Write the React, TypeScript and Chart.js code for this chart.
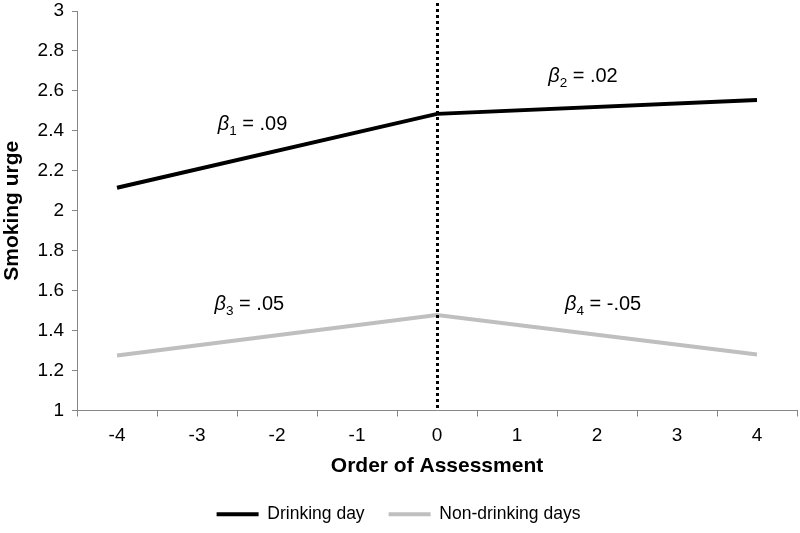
import { useEffect, useRef } from 'react';
import { Chart, registerables } from 'chart.js';

Chart.register(...registerables);

const categories = ['-4', '-3', '-2', '-1', '0', '1', '2', '3', '4'];
const drinkingDay = [2.115, null, null, null, 2.485, null, null, null, 2.555];
const nonDrinkingDays = [1.275, null, null, null, 1.478, null, null, null, 1.28];
const seriesNames = ['Drinking day', 'Non-drinking days'];
const betaSubscripts = ['1', '2', '3', '4'];
const betaValues = ['.09', '.02', '.05', '-.05'];

// annotation anchor points (category index, y value) for the beta labels
const betaAnchors = [
  { i: 1.26, y: 2.44 },
  { i: 5.39, y: 2.68 },
  { i: 1.22, y: 1.54 },
  { i: 5.6, y: 1.54 },
];

const FONT = "'Liberation Sans', Arial, sans-serif";
const AXIS = '#868686';

const overlayPlugin = {
  id: 'overlay',
  afterDatasetsDraw(chart: any) {
    const { ctx, chartArea, scales } = chart;
    const x = scales.x;
    const y = scales.y;
    ctx.save();
    const x0 = Math.round(x.getPixelForValue(categories.indexOf('0'))) + 0.5;
    ctx.strokeStyle = '#000';
    ctx.lineWidth = 3;
    ctx.setLineDash([3, 3]);
    ctx.beginPath();
    ctx.moveTo(x0, chartArea.top - 8);
    ctx.lineTo(x0, chartArea.bottom);
    ctx.stroke();
    ctx.setLineDash([]);
    ctx.fillStyle = '#000';
    ctx.textBaseline = 'alphabetic';
    ctx.textAlign = 'left';
    betaAnchors.forEach((a, k) => {
      let px = x.getPixelForValue(a.i);
      const py = y.getPixelForValue(a.y) + 7;
      ctx.font = `italic 20px ${FONT}`;
      ctx.fillText('\u03B2', px, py);
      px += ctx.measureText('\u03B2').width;
      ctx.font = `13.5px ${FONT}`;
      ctx.fillText(betaSubscripts[k], px, py + 5);
      px += ctx.measureText(betaSubscripts[k]).width;
      ctx.font = `20px ${FONT}`;
      ctx.fillText(' = ' + betaValues[k], px, py);
    });
    ctx.restore();
  },
};

export default function App() {
  const ref = useRef<HTMLCanvasElement>(null);
  useEffect(() => {
    if (!ref.current) return;
    const chart = new Chart(ref.current, {
      type: 'line',
      data: {
        labels: categories,
        datasets: [
          {
            label: seriesNames[0],
            data: drinkingDay,
            borderColor: '#000000',
            backgroundColor: '#000000',
            borderWidth: 4,
            pointRadius: 0,
            spanGaps: true,
            tension: 0,
          },
          {
            label: seriesNames[1],
            data: nonDrinkingDays,
            borderColor: '#bfbfbf',
            backgroundColor: '#bfbfbf',
            borderWidth: 4,
            pointRadius: 0,
            spanGaps: true,
            tension: 0,
          },
        ],
      },
      options: {
        animation: false,
        responsive: true,
        maintainAspectRatio: false,
        layout: { padding: { top: 11, right: 3, left: 0, bottom: 0 } },
        plugins: {
          tooltip: { enabled: false },
          legend: {
            position: 'bottom',
            labels: {
              boxWidth: 42,
              boxHeight: 4,
              padding: 24,
              color: '#000',
              font: { family: FONT, size: 17.5 },
              generateLabels: (c: any) =>
                c.data.datasets.map((d: any, i: number) => ({
                  text: d.label,
                  fillStyle: d.borderColor,
                  strokeStyle: d.borderColor,
                  lineWidth: 0,
                  hidden: false,
                  datasetIndex: i,
                  fontColor: '#000',
                })),
            },
          },
        },
        scales: {
          x: {
            type: 'category',
            offset: true,
            grid: {
              display: true,
              offset: true,
              drawOnChartArea: false,
              tickLength: 6,
              color: AXIS,
            },
            border: { color: AXIS, width: 1 },
            ticks: { color: '#000', font: { family: FONT, size: 19 }, padding: 8 },
            title: {
              display: true,
              text: 'Order of Assessment',
              color: '#000',
              font: { family: FONT, size: 21, weight: 'bold' },
              padding: { top: 4, bottom: 3 },
            },
            afterFit: (s: any) => {
              s.height = 71;
            },
          },
          y: {
            min: 1,
            max: 3,
            grid: {
              display: true,
              drawOnChartArea: false,
              tickLength: 5,
              color: AXIS,
            },
            border: { color: AXIS, width: 1 },
            ticks: {
              stepSize: 0.2,
              color: '#000',
              padding: 8,
              font: { family: FONT, size: 19 },
              callback: (v: any) => String(Number(Number(v).toFixed(1))),
            },
            title: {
              display: true,
              text: 'Smoking urge',
              color: '#000',
              font: { family: FONT, size: 21, weight: 'bold' },
              padding: { top: 0, bottom: 4 },
            },
            afterFit: (s: any) => {
              s.width = 77;
              s.paddingTop = 0;
              s.paddingBottom = 0;
            },
          },
        },
      },
      plugins: [overlayPlugin],
    });
    return () => chart.destroy();
  }, []);
  return (
    <div style={{ position: 'absolute', left: 0, top: 0, width: 800, height: 533 }}>
      <canvas ref={ref} />
    </div>
  );
}
